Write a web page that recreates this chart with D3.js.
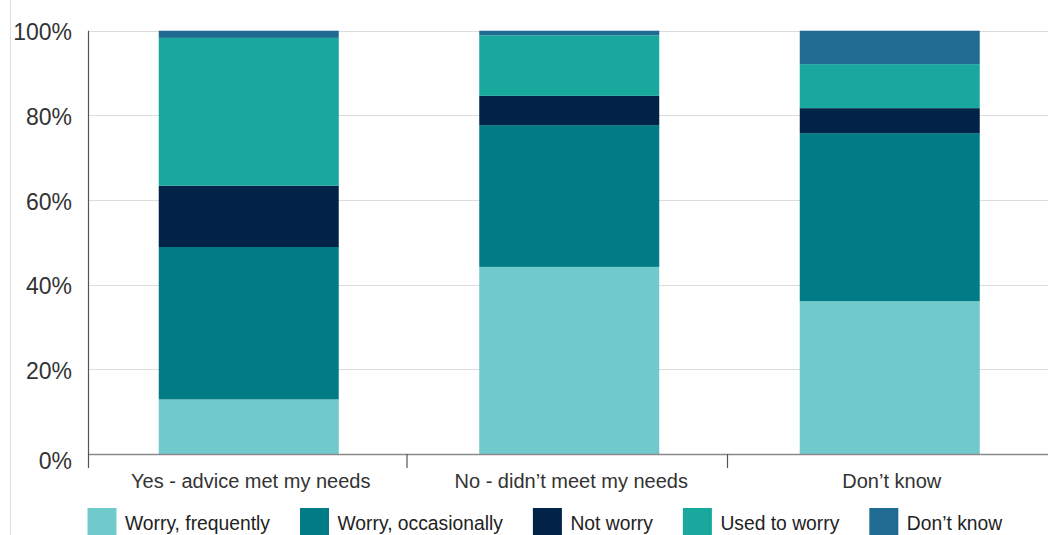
<!DOCTYPE html>
<html>
<head>
<meta charset="utf-8">
<script src="https://cdn.jsdelivr.net/npm/d3@7"></script>
<style>
  body { margin: 0; background: #fff; }
  svg { display: block; font-family: "Liberation Sans", Arial, sans-serif; }
</style>
</head>
<body>
<svg id="chart"></svg>
<script>
const width = 1048;
const height = 535;

// data (percent of respondents)
const categories = ['Yes - advice met my needs', 'No - didn\u2019t meet my needs', 'Don\u2019t know'];
const seriesNames = ['Worry, frequently', 'Worry, occasionally', 'Not worry', 'Used to worry', 'Don\u2019t know'];
const worryFrequently = [12.9, 44.2, 36.1];
const worryOccasionally = [36.0, 33.5, 39.7];
const notWorry = [14.5, 6.9, 5.9];
const usedToWorry = [34.9, 14.3, 10.4];
const dontKnow = [1.7, 1.1, 7.9];
const yTicks = [0, 20, 40, 60, 80, 100];
const colors = ['#70c9ca', '#017c87', '#012348', '#19a89d', '#1f6b91'];

const seriesValues = [worryFrequently, worryOccasionally, notWorry, usedToWorry, dontKnow];
const rows = categories.map((c, i) => {
  const row = { category: c };
  seriesNames.forEach((s, j) => { row[s] = seriesValues[j][i]; });
  return row;
});

const svg = d3.select('#chart')
  .attr('width', width)
  .attr('height', height);

// thin frame line on the left
svg.append('line')
  .attr('x1', 10.5).attr('x2', 10.5)
  .attr('y1', 0).attr('y2', height)
  .attr('stroke', '#e0e0e0');

const x = d3.scaleBand()
  .domain(categories)
  .range([88.5, 1050])
  .paddingInner(0.4375)
  .paddingOuter(0.21875);

const y = d3.scaleLinear()
  .domain([0, 100])
  .range([454, 30.7]);

// gridlines
svg.append('g')
  .selectAll('line')
  .data(yTicks.filter(t => t > 0))
  .join('line')
  .attr('x1', 88.5).attr('x2', width)
  .attr('y1', d => Math.round(y(d)) + 0.5)
  .attr('y2', d => Math.round(y(d)) + 0.5)
  .attr('stroke', '#dcdcdc')
  .attr('stroke-width', 1.2);

// y tick labels (the 0% label sits a little below its line in the original)
svg.append('g')
  .selectAll('text')
  .data(yTicks)
  .join('text')
  .attr('x', 72)
  .attr('y', d => y(d) + (d === 0 ? 7 : 1.5))
  .attr('dy', '0.36em')
  .attr('text-anchor', 'end')
  .style('font-size', '23px')
  .attr('fill', '#333')
  .text(d => d + '%');

// stacked bars
const stacked = d3.stack().keys(seriesNames)(rows);
const barW = 180;
svg.append('g')
  .selectAll('g')
  .data(stacked)
  .join('g')
  .attr('fill', (d, i) => colors[i])
  .selectAll('rect')
  .data(d => d)
  .join('rect')
  .attr('x', d => x(d.data.category) + x.bandwidth() / 2 - barW / 2)
  .attr('width', barW)
  .attr('y', d => y(d[1]))
  .attr('height', d => y(d[0]) - y(d[1]));

// x axis line and category separators
svg.append('line')
  .attr('x1', 88.5).attr('x2', width)
  .attr('y1', 454.5).attr('y2', 454.5)
  .attr('stroke', '#8a8a8a')
  .attr('stroke-width', 1.5);

svg.append('g')
  .selectAll('line')
  .data(categories.slice(1))
  .join('line')
  .attr('x1', d => x(d) - x.step() * x.paddingInner() / 2 - 2)
  .attr('x2', d => x(d) - x.step() * x.paddingInner() / 2 - 2)
  .attr('y1', 454).attr('y2', 468)
  .attr('stroke', '#555')
  .attr('stroke-width', 1.2);

svg.append('line')
  .attr('x1', 88.5).attr('x2', 88.5)
  .attr('y1', y(100)).attr('y2', 468)
  .attr('stroke', '#555')
  .attr('stroke-width', 1.2);

// category labels
svg.append('g')
  .selectAll('text')
  .data(categories)
  .join('text')
  .attr('x', d => x(d) + x.bandwidth() / 2 + 2)
  .attr('y', 487.5)
  .attr('text-anchor', 'middle')
  .style('font-size', '20px')
  .attr('fill', '#333')
  .text(d => d);

// legend, laid out left to right
const legend = svg.append('g');
let lx = 87.5;
seriesNames.forEach((name, i) => {
  legend.append('rect')
    .attr('x', lx).attr('y', 508)
    .attr('width', 29).attr('height', 28)
    .attr('fill', colors[i]);
  const t = legend.append('text')
    .attr('x', lx + 37.5)
    .attr('y', 530)
    .style('font-size', '19.3px')
    .attr('fill', '#222')
    .text(name);
  lx += 37.5 + t.node().getComputedTextLength() + 30;
});
</script>
</body>
</html>
